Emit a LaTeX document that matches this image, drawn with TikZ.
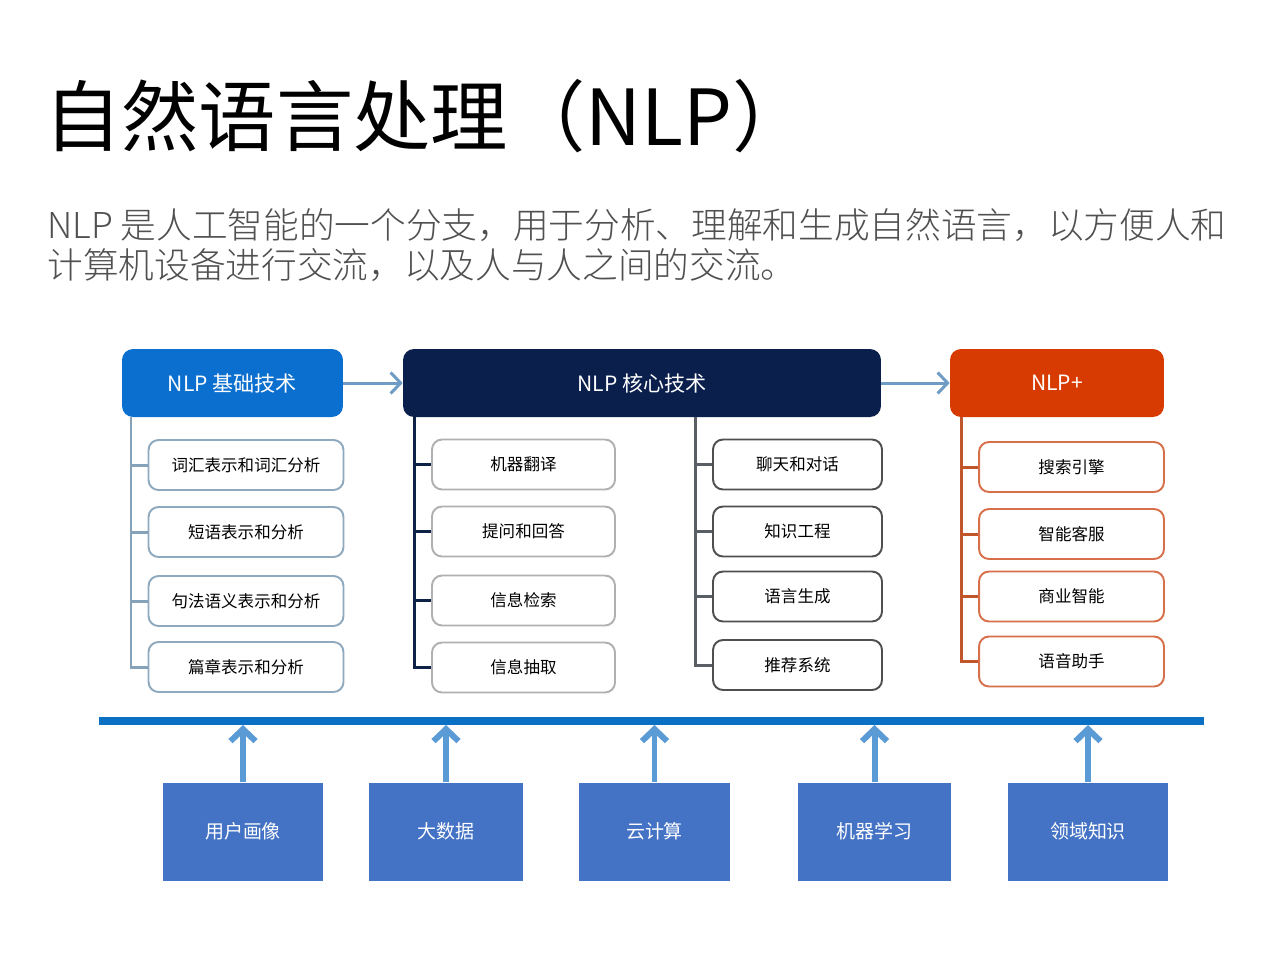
\documentclass[tikz,border=0pt]{standalone}
\usepackage{fontspec}
\setmainfont{Noto Sans CJK SC}
\newfontfamily\lightcjk{Noto Sans CJK SC Light}
\usepackage{tikz}
\usetikzlibrary{arrows.meta}
\usepackage{xcolor}

\definecolor{baseblue}{HTML}{0B6FCF}
\definecolor{corenavy}{HTML}{0B1F4D}
\definecolor{plusred}{HTML}{D83B01}
\definecolor{linkblue}{HTML}{6E9CC4}
\definecolor{basetree}{HTML}{86A2B8}
\definecolor{basebox}{HTML}{8FA9BE}
\definecolor{coretree}{HTML}{0E2247}
\definecolor{corebox}{HTML}{B0B0B0}
\definecolor{nexttree}{HTML}{5A5F66}
\definecolor{nextbox}{HTML}{4F4F4F}
\definecolor{plustree}{HTML}{C0562A}
\definecolor{plusbox}{HTML}{D7704A}
\definecolor{barblue}{HTML}{0A70C4}
\definecolor{srcblue}{HTML}{4472C4}
\definecolor{liftblue}{HTML}{5B9BD5}
\definecolor{subgray}{HTML}{505050}

\begin{document}
\begin{tikzpicture}[x=0.02cm, y=-0.02cm,
      head/.style={rounded corners=0.22cm, minimum height=1.36cm, inner sep=0pt, text=white, font=\fontsize{12pt}{14pt}\selectfont},
      item/.style={draw, fill=white, rounded corners=0.2cm, minimum height=1cm, inner sep=0pt, line width=1.1pt, font=\fontsize{9.4pt}{11pt}\selectfont},
      src/.style={fill=srcblue, minimum height=1.96cm, inner sep=0pt, text=white, font=\fontsize{10.8pt}{12pt}\selectfont},
      trunk/.style={line width=1.7pt},
      link/.style={line width=1.7pt, linkblue, -{Straight Barb[length=0.2cm, width=0.42cm]}},
      lift/.style={line width=3.4pt, liftblue, -{Straight Barb[length=0.24cm, width=0.5cm]}}]

      \fill[white] (0,0) rectangle (1280,960);
      \useasboundingbox (0,0) rectangle (1280,960);

      \node[anchor=base west, inner sep=0pt, font=\fontsize{44pt}{48pt}\selectfont] (title) at (44,145) {自然语言处理（NLP）};

      \node[anchor=base west, inner sep=0pt, text=subgray, font=\lightcjk\fontsize{20.3pt}{23pt}\selectfont] (s1) at (47,238) {NLP 是人工智能的一个分支，用于分析、理解和生成自然语言，以方便人和};
      \node[anchor=base west, inner sep=0pt, text=subgray, font=\lightcjk\fontsize{20.3pt}{23pt}\selectfont] (s2) at (47,278) {计算机设备进行交流，以及人与人之间的交流。};

      \node[head, fill=baseblue, minimum width=4.42cm] (h1) at (232.5,383) {NLP 基础技术};
      \node[head, fill=corenavy, minimum width=9.56cm] (h2) at (642,383) {NLP 核心技术};
      \node[head, fill=plusred, minimum width=4.28cm] (h3) at (1057,383) {NLP+};

      \draw[link] (h1) -- (h2);
      \draw[link] (h2) -- (h3);

      \foreach \n/\y/\t in {1/465/词汇表示和词汇分析, 2/532/短语表示和分析, 3/601/句法语义表示和分析, 4/667/篇章表示和分析}
        \node[item, draw=basebox, minimum width=3.9cm] (a\n) at (246,\y) {\t};
      \foreach \n/\y/\t in {1/464.5/机器翻译, 2/531.5/提问和回答, 3/600.5/信息检索, 4/667.5/信息抽取}
        \node[item, draw=corebox, minimum width=3.66cm] (b\n) at (523.5,\y) {\t};
      \foreach \n/\y/\t in {1/464.5/聊天和对话, 2/531.5/知识工程, 3/596.5/语言生成, 4/665/推荐系统}
        \node[item, draw=nextbox, minimum width=3.38cm] (c\n) at (797.5,\y) {\t};
      \foreach \n/\y/\t in {1/467/搜索引擎, 2/534/智能客服, 3/596.5/商业智能, 4/661.5/语音助手}
        \node[item, draw=plusbox, minimum width=3.7cm] (d\n) at (1071.5,\y) {\t};

      \coordinate (ta) at (131,417);
      \coordinate (tb) at (414,417);
      \coordinate (tc) at (695,417);
      \coordinate (td) at (961,417);

      \draw[trunk, basetree] (ta) |- (a4.west);
      \draw[trunk, coretree] (tb) |- (b4.west);
      \draw[trunk, nexttree] (tc) |- (c4.west);
      \draw[trunk, plustree] (td) |- (d4.west);
      \foreach \n in {1,2,3} {
        \draw[trunk, basetree] (a\n.west -| ta) -- (a\n.west);
        \draw[trunk, coretree] (b\n.west -| tb) -- (b\n.west);
        \draw[trunk, nexttree] (c\n.west -| tc) -- (c\n.west);
        \draw[trunk, plustree] (d\n.west -| td) -- (d\n.west);
      }

      \coordinate (bl) at (99,721);
      \coordinate (br) at (1204,721);
      \draw[line width=4.5pt, barblue] (bl) -- (br);

      \foreach \n/\x/\w/\t in {1/243/3.2/用户画像, 2/446/3.08/大数据, 3/654.5/3.02/云计算, 4/874.5/3.06/机器学习, 5/1088/3.2/领域知识}
        \node[src, minimum width=\w cm] (e\n) at (\x,831.5) {\t};
      \foreach \n in {1,...,5}
        \draw[lift, shorten >=0.08cm] (e\n.north) -- (e\n.north |- bl);

    \end{tikzpicture}
\end{document}
